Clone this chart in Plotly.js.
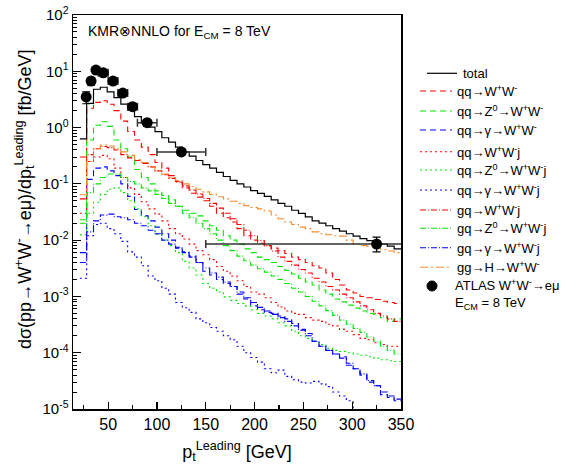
<!DOCTYPE html>
<html><head><meta charset="utf-8">
<script src="https://cdn.plot.ly/plotly-3.0.1.min.js"></script>
<style>html,body{margin:0;padding:0;background:#fff;} #chart{width:568px;height:469px;}</style>
</head><body><div id="chart"></div>
<script>
// bin edges (GeV) of the theory histograms
const binEdges = [21,28,35,42,49,56,63,70,77,84,91,98,105,112,119,126,133,140,147,154,161,168,175,182,189,196,203,210,217,224,231,238,245,252,259,266,273,280,287,294,301,308,315,322,329,336,343,350];

const total = [0.63,2.7,4.8,5.2,4.3,3.4,2.6,2.05,1.56,1.2,1.02,0.85,0.66,0.55,0.45,0.37,0.31,0.26,0.22,0.19,0.16,0.135,0.115,0.10,0.088,0.076,0.068,0.060,0.052,0.045,0.040,0.034,0.030,0.026,0.022,0.020,0.018,0.016,0.0145,0.013,0.0118,0.0106,0.0098,0.0090,0.0085,0.0078,0.0070];
const qqWW = [0.30,2.2,2.8,3.0,2.6,2.0,1.3,0.85,0.6,0.45,0.33,0.24,0.19,0.14,0.11,0.085,0.068,0.058,0.050,0.040,0.030,0.025,0.021,0.016,0.012,0.010,0.0088,0.0080,0.0072,0.0065,0.0058,0.0050,0.0045,0.0040,0.0035,0.0032,0.0026,0.0020,0.0016,0.0013,0.00115,0.0010,0.00095,0.00088,0.00082,0.00078,0.00075];
const qqZWW = [0.023,0.6,1.1,1.27,1.05,0.6,0.42,0.30,0.18,0.13,0.10,0.075,0.062,0.052,0.040,0.034,0.030,0.027,0.022,0.018,0.015,0.012,0.010,0.0085,0.0070,0.0060,0.0050,0.0045,0.0040,0.0034,0.0029,0.0025,0.0021,0.0018,0.0016,0.0013,0.0011,0.0009,0.0008,0.0007,0.00062,0.00055,0.0005,0.00048,0.00042,0.00036,0.0004];
const qqGWW = [0.006,0.12,0.19,0.20,0.17,0.14,0.10,0.06,0.035,0.027,0.022,0.017,0.013,0.010,0.0075,0.0062,0.0052,0.0040,0.0028,0.0024,0.0020,0.0017,0.0015,0.0011,0.00090,0.00068,0.00058,0.00052,0.00050,0.00045,0.00040,0.00033,0.00026,0.00022,0.00016,0.00013,0.00011,0.000095,0.000085,0.000060,0.000052,0.000040,0.000030,0.000026,0.000018,0.000016,0.000014];
const qqWWj = [0.030,0.25,0.30,0.32,0.28,0.19,0.13,0.085,0.065,0.048,0.036,0.029,0.022,0.016,0.013,0.0105,0.0085,0.0065,0.0055,0.0045,0.0034,0.0028,0.0023,0.0019,0.0015,0.0012,0.0011,0.00095,0.00078,0.00065,0.00055,0.00050,0.00048,0.00042,0.00038,0.00036,0.00032,0.00030,0.00026,0.00024,0.00021,0.00018,0.00017,0.00015,0.00014,0.00013,0.00013];
const qqZWWj = [0.0124,0.03,0.047,0.065,0.080,0.085,0.070,0.050,0.036,0.026,0.018,0.0126,0.0100,0.0080,0.0060,0.0042,0.0032,0.0024,0.0017,0.0014,0.0012,0.00098,0.00085,0.00075,0.00068,0.00058,0.00050,0.00045,0.00040,0.00034,0.00030,0.00024,0.00020,0.00018,0.00016,0.00014,0.00012,0.00011,0.000105,0.000100,0.000095,0.000090,0.000085,0.000080,0.000075,0.000072,0.000070];
const qqGWWj = [0.0021,0.012,0.019,0.020,0.016,0.013,0.0095,0.0062,0.0050,0.0035,0.0023,0.0019,0.0014,0.0011,0.00078,0.00063,0.00052,0.00040,0.00034,0.00028,0.00024,0.00020,0.00017,0.00013,0.00010,0.000082,0.000068,0.000052,0.000044,0.000049,0.000038,0.000033,0.000030,0.000029,0.000031,0.000028,0.000025,0.000020,0.000017,0.000014,0.000005,0.000005,0.000005,0.000005,0.000005,0.000005,0.000005];
const gqWWj = [0.054,0.33,0.42,0.46,0.44,0.40,0.33,0.29,0.26,0.23,0.20,0.17,0.145,0.125,0.108,0.092,0.078,0.066,0.055,0.045,0.037,0.030,0.024,0.019,0.015,0.012,0.0098,0.0080,0.0064,0.0050,0.0042,0.0036,0.0030,0.0026,0.0021,0.0018,0.0015,0.0013,0.0011,0.00095,0.00080,0.00068,0.00058,0.00050,0.00045,0.00040,0.00036];
const gqZWWj = [0.020,0.07,0.10,0.13,0.15,0.15,0.13,0.11,0.10,0.085,0.075,0.065,0.055,0.045,0.040,0.030,0.025,0.020,0.016,0.013,0.010,0.0080,0.0065,0.0052,0.0043,0.0036,0.0031,0.0027,0.0023,0.0020,0.0017,0.0014,0.0012,0.0010,0.00082,0.00068,0.00056,0.00046,0.00038,0.00032,0.00027,0.00023,0.00019,0.00016,0.00013,0.00011,0.000095];
const gqGWWj = [0.0040,0.014,0.022,0.028,0.029,0.026,0.025,0.023,0.020,0.018,0.015,0.013,0.010,0.0085,0.0072,0.0060,0.0050,0.0040,0.0032,0.0026,0.0022,0.0018,0.0015,0.0012,0.00095,0.00078,0.00064,0.00055,0.00048,0.00042,0.00036,0.00030,0.00025,0.00020,0.00016,0.00013,0.00011,0.000095,0.000080,0.000065,0.000052,0.000042,0.000032,0.000026,0.000020,0.000017,0.000015];
const ggHWW = [0.064,0.25,0.42,0.49,0.47,0.42,0.37,0.32,0.27,0.24,0.20,0.17,0.15,0.13,0.115,0.10,0.090,0.080,0.072,0.065,0.059,0.054,0.049,0.045,0.041,0.038,0.036,0.033,0.028,0.024,0.021,0.019,0.017,0.016,0.014,0.0130,0.0125,0.0120,0.0118,0.0100,0.0085,0.0080,0.0078,0.0075,0.0068,0.0064,0.0060];

// ATLAS data
const atlasX = [27.5,32.5,37.5,45,55,65,75,90,125,325];
const atlasY = [3.5,6.7,10.5,9.4,6.7,4.1,2.35,1.22,0.37,0.0085];
const atlasXErr = [2.5,2.5,2.5,5,5,5,5,10,25,175];
const atlasYErrUp = [0.8,1.0,1.3,1.0,0.7,0.45,0.3,0.16,0.05,0.0028];
const atlasYErrDown = [0.85,1.0,1.3,1.0,0.7,0.45,0.3,0.16,0.05,0.0023];

const yTickVals = [1e-5,1e-4,1e-3,1e-2,1e-1,1,10,100];
const yTickText = ['10<sup>-5</sup>','10<sup>-4</sup>','10<sup>-3</sup>','10<sup>-2</sup>','10<sup>-1</sup>','10<sup>0</sup>','10<sup>1</sup>','10<sup>2</sup>'];

const FONT = 'Liberation Sans, Arial, sans-serif';
const RED = '#ff0000', GREEN = '#00e600', BLUE = '#0000ff', ORANGE = '#f58a2c';

const series = [
  {name:'total', v:total, color:'#000000', dash:'solid', w:1.2},
  {name:'qq→W<sup>+</sup>W<sup>-</sup>', v:qqWW, color:RED, dash:'6px,4px', w:1.1},
  {name:'qq→Z<sup>0</sup>→W<sup>+</sup>W<sup>-</sup>', v:qqZWW, color:GREEN, dash:'6px,4px', w:1.1},
  {name:'qq→γ→W<sup>+</sup>W<sup>-</sup>', v:qqGWW, color:BLUE, dash:'6px,4px', w:1.1},
  {name:'qq→W<sup>+</sup>W<sup>-</sup>j', v:qqWWj, color:RED, dash:'2px,3px', w:1.1},
  {name:'qq→Z<sup>0</sup>→W<sup>+</sup>W<sup>-</sup>j', v:qqZWWj, color:GREEN, dash:'2px,3px', w:1.1},
  {name:'qq→γ→W<sup>+</sup>W<sup>-</sup>j', v:qqGWWj, color:BLUE, dash:'2px,3px', w:1.1},
  {name:'gq→W<sup>+</sup>W<sup>-</sup>j', v:gqWWj, color:RED, dash:'6px,2px,1px,2px', w:1.1},
  {name:'gq→Z<sup>0</sup>→W<sup>+</sup>W<sup>-</sup>j', v:gqZWWj, color:GREEN, dash:'6px,2px,1px,2px', w:1.1},
  {name:'gq→γ→W<sup>+</sup>W<sup>-</sup>j', v:gqGWWj, color:BLUE, dash:'6px,2px,1px,2px', w:1.1},
  {name:'gg→H→W<sup>+</sup>W<sup>-</sup>', v:ggHWW, color:ORANGE, dash:'8px,3px,2px,3px', w:1.1}
];

const traces = [];
series.slice(1).concat([series[0]]).forEach(s => {
  traces.push({
    type:'scatter', mode:'lines', x:binEdges, y:s.v.concat([s.v[s.v.length-1]]),
    line:{shape:'hv', color:s.color, dash:s.dash, width:s.w},
    showlegend:false, hoverinfo:'skip'
  });
});
traces.push({
  type:'scatter', mode:'markers', x:atlasX, y:atlasY,
  marker:{color:'black', size:11, symbol:'circle'},
  error_y:{type:'data', symmetric:false, array:atlasYErrUp, arrayminus:atlasYErrDown, color:'black', thickness:1.2, width:4},
  error_x:{type:'data', array:atlasXErr, color:'#333333', thickness:1.5, width:4},
  showlegend:false, hoverinfo:'skip'
});

// plot-area geometry in pixels
const L = 73, R = 401, T = 15, B = 409;
const px = x => (x - L) / (R - L);
const py = y => (B - y) / (B - T);

const minorVals = [];
for (let e = -5; e < 2; e++) for (let m = 2; m <= 9; m++) minorVals.push(m * Math.pow(10, e));

const shapes = [];
const annotations = [];
const rowY = [73.3,91,111,130,151.7,170,190,210,228.3,247.7,267.3];
series.forEach((s, i) => {
  const x0 = i === 0 ? 427 : 420, x1 = i === 0 ? 457 : 452;
  shapes.push({type:'line', xref:'paper', yref:'paper', x0:px(x0), x1:px(x1), y0:py(rowY[i]), y1:py(rowY[i]),
    line:{color:s.color, width:s.w, dash:s.dash}});
  annotations.push({xref:'paper', yref:'paper', x:px(i === 0 ? 461 : 455), y:py(rowY[i]), xanchor:'left', yanchor:'middle',
    text:s.name, showarrow:false, font:{family:FONT, size:13, color:'black'}});
});
shapes.push({type:'circle', xref:'paper', yref:'paper', x0:px(427), x1:px(437), y0:py(291), y1:py(281), fillcolor:'black', line:{color:'black', width:1}});
annotations.push({xref:'paper', yref:'paper', x:px(453), y:py(285), xanchor:'left', yanchor:'middle',
  text:'ATLAS W<sup>+</sup>W<sup>-</sup>→eμ', showarrow:false, font:{family:FONT, size:13, color:'black'}});
annotations.push({xref:'paper', yref:'paper', x:px(453), y:py(303), xanchor:'left', yanchor:'middle',
  text:'E<sub>CM</sub> = 8 TeV', showarrow:false, font:{family:FONT, size:13, color:'black'}});
annotations.push({xref:'paper', yref:'paper', x:px(86), y:py(32), xanchor:'left', yanchor:'middle',
  text:'KMR⊗NNLO for E<sub>CM</sub> = 8 TeV', showarrow:false, font:{family:FONT, size:14, color:'black'}});
annotations.push({xref:'paper', yref:'paper', x:px(24), y:py(200), xanchor:'center', yanchor:'middle', textangle:-90,
  text:'dσ(pp→W<sup>+</sup>W<sup>-</sup>→eμ)/dp<sub>t</sub><sup>Leading</sup> [fb/GeV]', showarrow:false,
  font:{family:FONT, size:18, color:'black'}});

const layout = {
  width:568, height:469,
  margin:{l:L, r:568-R, t:T, b:469-B, pad:0},
  paper_bgcolor:'white', plot_bgcolor:'white',
  font:{family:FONT, color:'black'},
  showlegend:false,
  xaxis:{
    range:[14,350], tickmode:'linear', tick0:0, dtick:50,
    ticks:'inside', ticklen:7, tickwidth:1.2, tickcolor:'black',
    showline:true, linecolor:'black', linewidth:1.5, mirror:true,
    showgrid:false, zeroline:false, tickfont:{family:FONT, size:16, color:'black'},
    minor:{ticks:'inside', ticklen:4, tick0:0, dtick:25, tickcolor:'black', tickwidth:1.2, showgrid:false},
    title:{text:'p<sub>t</sub><sup>Leading</sup> [GeV]', font:{family:FONT, size:18, color:'black'}, standoff:13}
  },
  yaxis:{
    type:'log', range:[-5,2], tickmode:'array', tickvals:yTickVals, ticktext:yTickText,
    ticks:'inside', ticklen:8, tickwidth:1.2, tickcolor:'black',
    showline:true, linecolor:'black', linewidth:1.5, mirror:true,
    showgrid:false, zeroline:false, tickfont:{family:FONT, size:15, color:'black'},
    minor:{ticks:'inside', ticklen:4, tickmode:'array', tickvals:minorVals, tickcolor:'black', tickwidth:1, showgrid:false}
  },
  shapes:shapes,
  annotations:annotations
};

Plotly.newPlot('chart', traces, layout, {displayModeBar:false, staticPlot:true});
</script>
</body></html>
